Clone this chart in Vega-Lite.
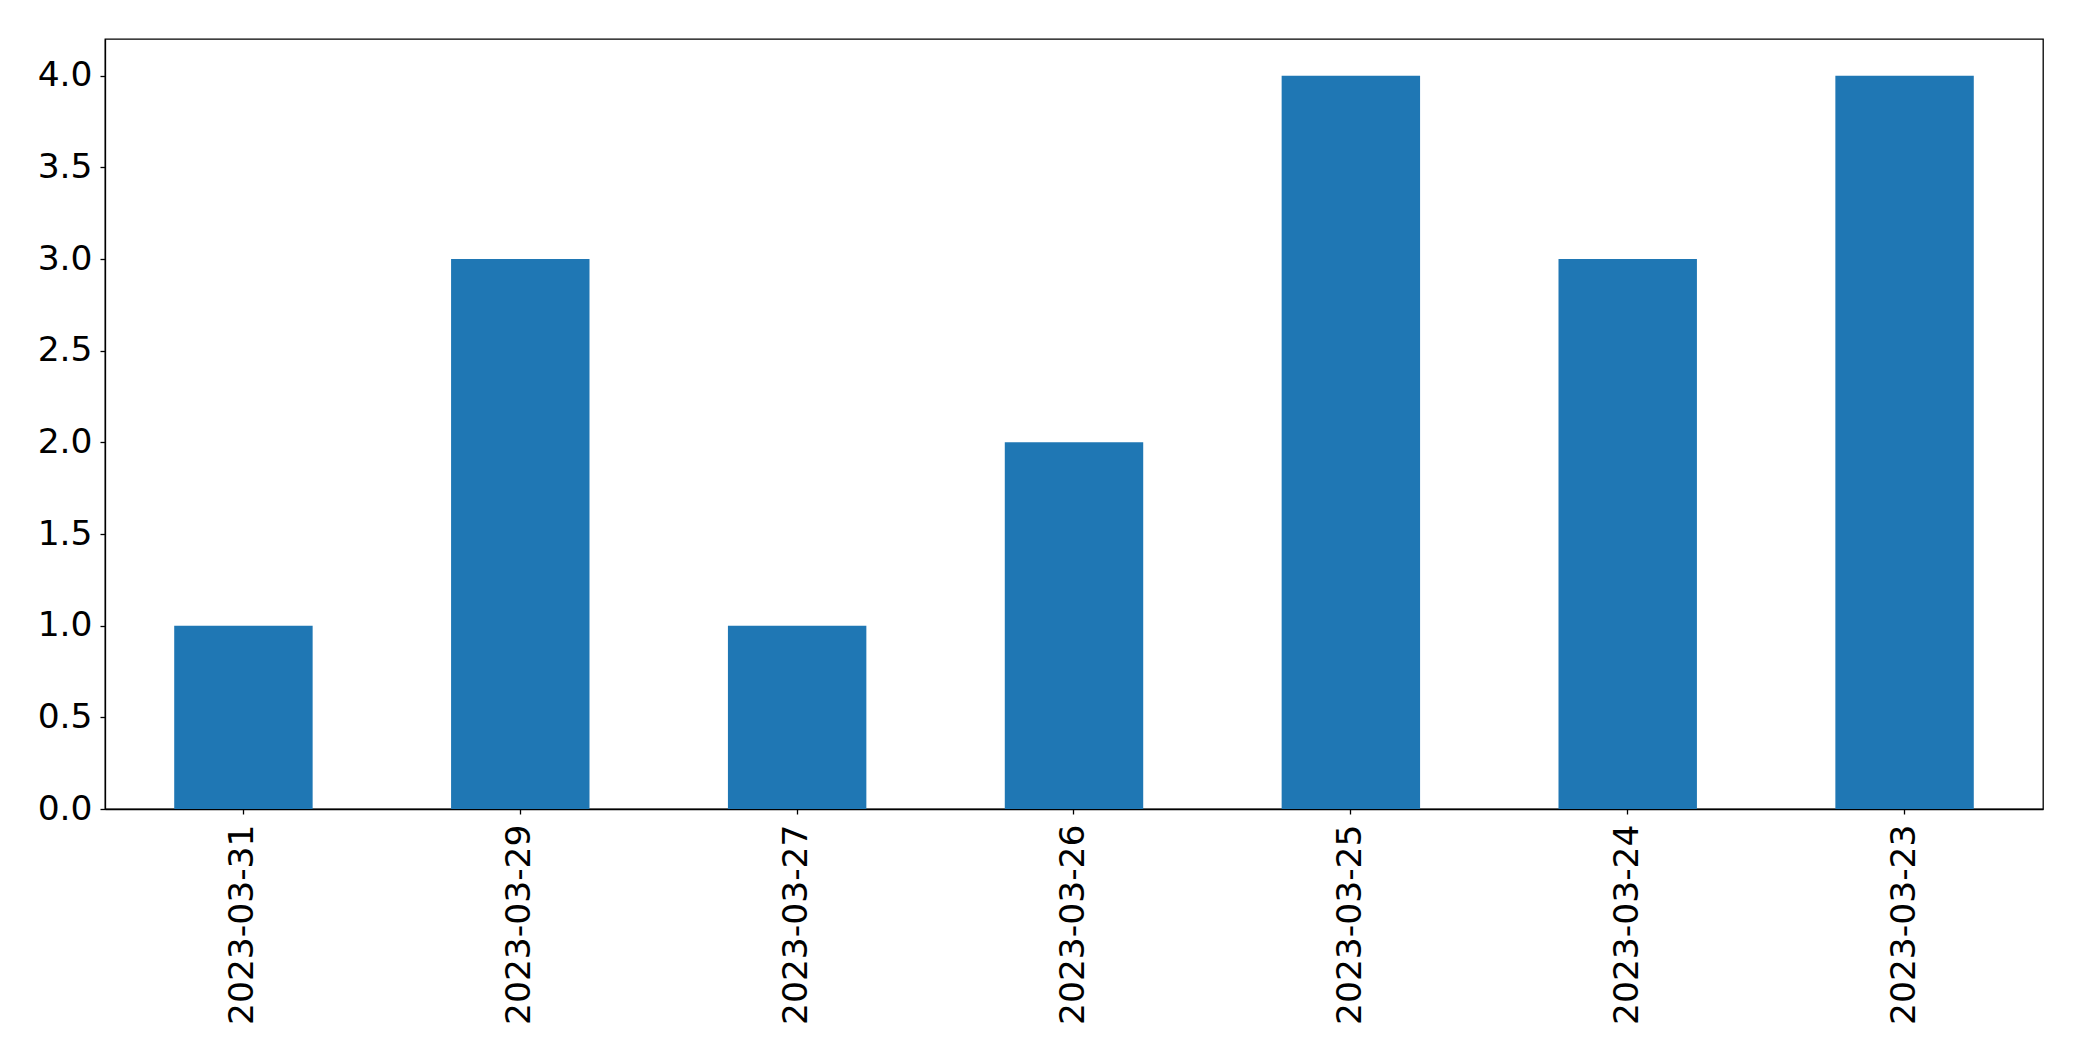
{
  "$schema": "https://vega.github.io/schema/vega-lite/v6.json",
  "autosize": "none",
  "padding": {"left": 105, "top": 39, "right": 39, "bottom": 252},
  "width": 1938,
  "height": 770,
  "background": "white",
  "config": {
    "view": {"stroke": "black", "strokeWidth": 1.3},
    "font": "DejaVu Sans",
    "axis": {
      "grid": false,
      "domainColor": "black",
      "domainWidth": 1.3,
      "tickColor": "black",
      "tickWidth": 1.3,
      "tickSize": 5,
      "labelFont": "DejaVu Sans",
      "labelFontSize": 34.5,
      "labelColor": "black",
      "labelLimit": 0,
      "title": null
    }
  },
  "data": {
    "values": [
      {"date": "2023-03-31", "count": 1},
      {"date": "2023-03-29", "count": 3},
      {"date": "2023-03-27", "count": 1},
      {"date": "2023-03-26", "count": 2},
      {"date": "2023-03-25", "count": 4},
      {"date": "2023-03-24", "count": 3},
      {"date": "2023-03-23", "count": 4}
    ]
  },
  "mark": {"type": "bar", "color": "#1f77b4"},
  "encoding": {
    "x": {
      "field": "date",
      "type": "nominal",
      "sort": null,
      "scale": {"paddingInner": 0.5, "paddingOuter": 0.25},
      "axis": {"labelAngle": -90, "labelPadding": 10, "labelAlign": "right", "labelBaseline": "middle", "labelLimit": 0}
    },
    "y": {
      "field": "count",
      "type": "quantitative",
      "scale": {"domain": [0, 4.2], "nice": false},
      "axis": {"values": [0, 0.5, 1, 1.5, 2, 2.5, 3, 3.5, 4], "format": ".1f", "labelPadding": 8}
    }
  }
}
